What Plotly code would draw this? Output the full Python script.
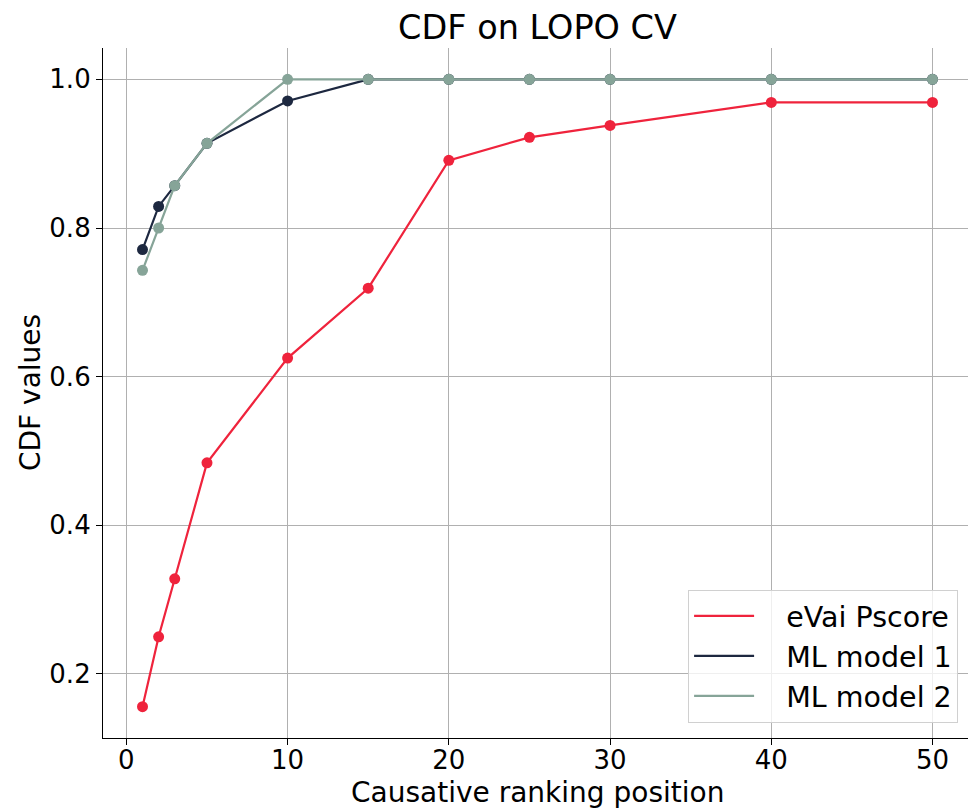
import plotly.graph_objects as go

# ranking positions
positions = [1, 2, 3, 5, 10, 15, 20, 25, 30, 40, 50]

# CDF values per method
evai_pscore = [0.156, 0.250, 0.328, 0.484, 0.625, 0.719, 0.891, 0.922, 0.938, 0.969, 0.969]
ml_model_1 = [0.771, 0.829, 0.857, 0.914, 0.971, 1.0, 1.0, 1.0, 1.0, 1.0, 1.0]
ml_model_2 = [0.743, 0.800, 0.857, 0.914, 1.0, 1.0, 1.0, 1.0, 1.0, 1.0, 1.0]

series_names = ["eVai Pscore", "ML model 1", "ML model 2"]
colors = ["#EF233C", "#1D2840", "#86A498"]

FONT = "DejaVu Sans"

fig = go.Figure()

for name, vals, col in zip(series_names, [evai_pscore, ml_model_1, ml_model_2], colors):
    # line + markers drawn, legend shows only line
    fig.add_trace(go.Scatter(
        x=positions, y=vals, mode="lines+markers", name=name,
        line=dict(color=col, width=2.2),
        marker=dict(color=col, size=11),
        showlegend=False,
    ))
    fig.add_trace(go.Scatter(
        x=[None], y=[None], mode="lines", name="\u00a0\u00a0\u00a0" + name,
        line=dict(color=col, width=2.2),
    ))

# page body adds 8px offset, so the figure is 8px smaller
fig.update_layout(
    width=968, height=802,
    margin=dict(l=95, r=4, t=40, b=72, autoexpand=False),
    paper_bgcolor="white", plot_bgcolor="white",
    font=dict(family=FONT, size=26, color="black"),
    title=dict(text="CDF on LOPO CV", x=0.547, xanchor="center", y=0.976, yanchor="middle",
               font=dict(size=33.5)),
    legend=dict(
        x=0.984, y=0.022, xanchor="right", yanchor="bottom",
        bgcolor="rgba(255,255,255,0.8)", bordercolor="#d0d0d0", borderwidth=1,
        font=dict(size=28.5), itemwidth=60, tracegroupgap=0,
    ),
    showlegend=True,
    annotations=[
        dict(text="Causative ranking position", xref="paper", yref="paper",
             x=0.5, y=-55 / 690, xanchor="center", yanchor="middle",
             showarrow=False, font=dict(size=28)),
        dict(text="CDF values", xref="paper", yref="paper",
             x=-73 / 869, y=0.5, xanchor="center", yanchor="middle", textangle=-90,
             showarrow=False, font=dict(size=28)),
    ],
)

fig.update_xaxes(
    range=[-1.45, 52.45], tickvals=[0, 10, 20, 30, 40, 50],
    showgrid=True, gridcolor="#b0b0b0", gridwidth=1,
    showline=True, linecolor="black", linewidth=1.2,
    ticks="outside", ticklen=6, tickcolor="black",
    zeroline=False, mirror=False, automargin=False,
    ticklabelstandoff=-7,
    tickfont=dict(size=26),
)
fig.update_yaxes(
    range=[0.1138, 1.0422], tickvals=[0.2, 0.4, 0.6, 0.8, 1.0], tickformat=".1f",
    showgrid=True, gridcolor="#b0b0b0", gridwidth=1,
    showline=True, linecolor="black", linewidth=1.2,
    ticks="outside", ticklen=6, tickcolor="black",
    zeroline=False, mirror=False, automargin=False,
    tickfont=dict(size=26),
)

fig.write_html("out.html")
